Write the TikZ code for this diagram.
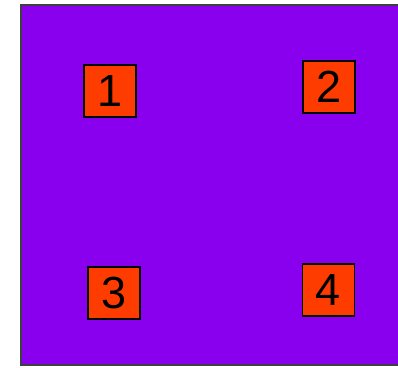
\documentclass[tikz,border=0pt]{standalone}
\usepackage{fontspec}
\setmainfont{Liberation Sans}
\usepackage{xcolor}
\definecolor{bgpurple}{HTML}{8800EE}
\definecolor{boxred}{HTML}{FF3C00}

\begin{document}
\begin{tikzpicture}[x=1pt,y=1pt,every node/.style={font=\fontsize{45}{45}\selectfont}]
        \useasboundingbox (0,0) rectangle (398,367);
        \draw[line width=2pt,draw=black!75,fill=bgpurple] (21,2) rectangle (402,362);
        \tikzset{numbox/.style={draw=black,line width=1.5pt,fill=boxred,minimum size=52pt,inner sep=0pt}}
        \node[numbox] (b1) at (109.8,276.2) {1};
        \node[numbox] (b2) at (329,280.2) {2};
        \node[numbox] (b3) at (113.8,74) {3};
        \node[numbox] (b4) at (328.3,77) {4};
      \end{tikzpicture}
\end{document}
